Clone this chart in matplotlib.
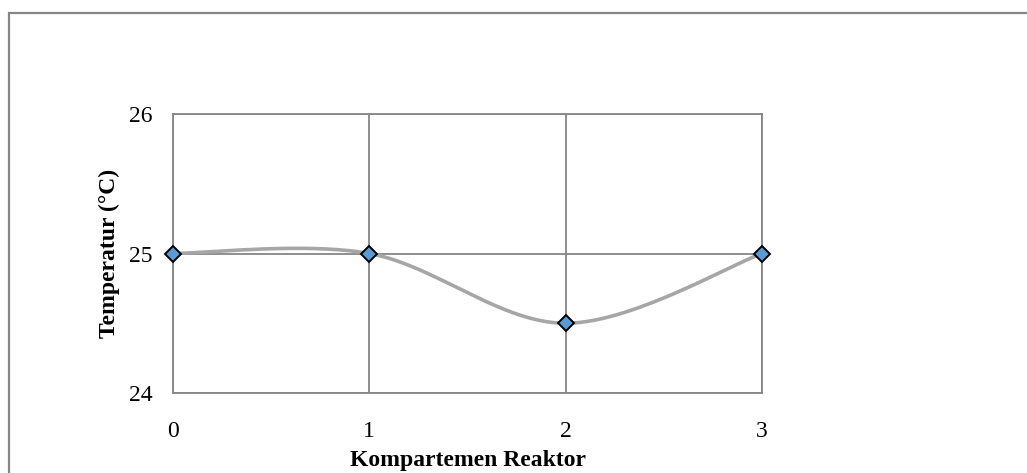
import numpy as np
import matplotlib.pyplot as plt
from matplotlib.patches import Rectangle

plt.rcParams.update({
    'font.family': 'serif',
    'font.serif': ['Liberation Serif', 'DejaVu Serif'],
    'font.size': 17,
})

# data
kompartemen = [0, 1, 2, 3]
temperatur = [25.0, 25.0, 24.5, 25.0]


def smooth_line(x, y, n=60):
    # Excel-style smoothed line (Catmull-Rom as cubic Bezier)
    x = np.asarray(x, float)
    y = np.asarray(y, float)
    px = np.concatenate([[x[0]], x, [x[-1]]])
    py = np.concatenate([[y[0]], y, [y[-1]]])
    xs, ys = [], []
    t = np.linspace(0, 1, n)
    for i in range(1, len(px) - 2):
        b0 = np.array([px[i], py[i]])
        b3 = np.array([px[i + 1], py[i + 1]])
        b1 = b0 + (np.array([px[i + 1], py[i + 1]]) - np.array([px[i - 1], py[i - 1]])) / 6
        b2 = b3 - (np.array([px[i + 2], py[i + 2]]) - np.array([px[i], py[i]])) / 6
        pts = ((1 - t) ** 3)[:, None] * b0 + (3 * (1 - t) ** 2 * t)[:, None] * b1 \
            + (3 * (1 - t) * t ** 2)[:, None] * b2 + (t ** 3)[:, None] * b3
        xs.append(pts[:, 0])
        ys.append(pts[:, 1])
    return np.concatenate(xs), np.concatenate(ys)


fig = plt.figure(figsize=(10.27, 4.73), dpi=100)
ax = fig.add_axes([173 / 1027, 1 - 393 / 473, (762 - 173) / 1027, (393 - 114) / 473])

# outer chart border (cropped at right/bottom)
fig.patches.append(Rectangle((8.5 / 1027, -0.1), 1.2, 1 - 13.5 / 473 + 0.1,
                             transform=fig.transFigure, fill=False,
                             edgecolor='#868686', linewidth=1.6))

sx, sy = smooth_line(kompartemen, temperatur)
ax.plot(sx, sy, color='#A6A6A6', linewidth=2.6, zorder=3)
ax.plot(kompartemen, temperatur, linestyle='none', marker='D', markersize=8.5,
        markerfacecolor='#5B9BD5', markeredgecolor='black', markeredgewidth=1.4,
        zorder=4, clip_on=False)

ax.set_xlim(0, 3)
ax.set_ylim(24, 26)
ax.set_xticks([0, 1, 2, 3])
ax.set_yticks([24, 25, 26])
ax.grid(True, color='#868686', linewidth=1.3)
ax.set_axisbelow(True)
for s in ax.spines.values():
    s.set_color('#868686')
    s.set_linewidth(1.3)
ax.tick_params(axis='x', length=0, pad=20, labelsize=17)
ax.tick_params(axis='y', length=0, pad=15, labelsize=17)

ax.set_xlabel('Kompartemen Reaktor', fontweight='bold', fontsize=17, labelpad=6)
ax.set_ylabel('Temperatur (°C)', fontweight='bold', fontsize=17, labelpad=6)

plt.savefig('out.png', dpi=100)
